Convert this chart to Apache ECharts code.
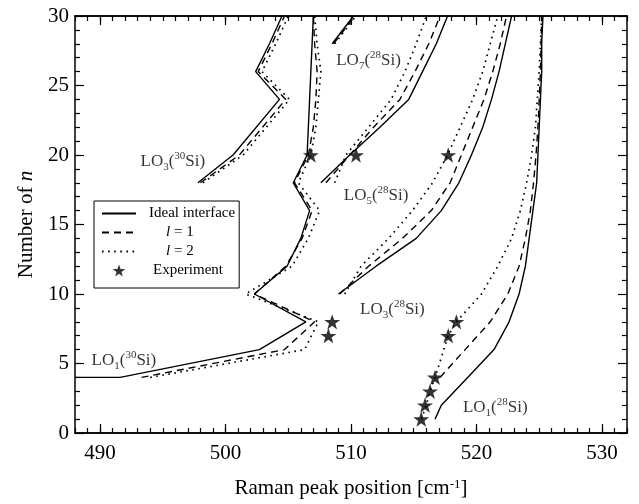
<!DOCTYPE html>
<html><head><meta charset="utf-8">
<script src="https://cdn.jsdelivr.net/npm/echarts@6/dist/echarts.min.js"></script>
<style>html,body{margin:0;padding:0;background:#fff}#c{width:639px;height:504px}</style>
</head><body><div id="c"></div>
<script>
// ---------- data (x = Raman peak position, y = n) ----------
const xMajorTicks = [490, 500, 510, 520, 530];
const yMajorTicks = [0, 5, 10, 15, 20, 25, 30];

// LO1(30Si) branch (zig-zag continuing to top)
const lo1_30_ideal = [[488,4],[491.6,4],[502.7,6],[506.4,8],[502.3,10],[504.9,12],[506.0,14],[506.7,16],[505.4,18],[506.5,20],[506.6,22],[506.7,24],[506.8,26],[506.9,28],[507.0,30]];
const lo1_30_l1    = [[493.3,4],[504.7,6],[507.1,8],[502.3,10],[504.8,12],[506.1,14],[506.9,16],[505.5,18],[506.6,20],[507.0,22],[507.2,24],[507.3,26],[507.1,28],[507.0,30]];
const lo1_30_l2    = [[494.0,4],[506.3,6],[507.4,8],[501.6,10],[505.3,12],[506.6,14],[507.5,16],[505.8,18],[506.8,20],[507.2,22],[507.4,24],[507.6,26],[507.3,28],[507.1,30]];
// LO3(30Si)
const lo3_30_ideal = [[497.8,18],[500.6,20],[504.3,24],[502.4,26],[503.5,28],[504.5,30]];
const lo3_30_l1    = [[498.0,18],[501.1,20],[504.8,24],[502.6,26],[503.7,28],[504.7,30]];
const lo3_30_l2    = [[498.2,18],[501.4,20],[505.1,24],[502.9,26],[504.0,28],[505.0,30]];
// LO7(28Si)
const lo7_28_ideal = [[508.5,28],[510.2,30]];
const lo7_28_l1    = [[508.6,28],[510.3,30]];
const lo7_28_l2    = [[508.7,28],[510.4,30]];
// LO5(28Si)
const lo5_28_ideal = [[507.6,18],[509.9,20],[512.3,22],[514.6,24],[515.7,26],[516.8,28],[517.7,30]];
const lo5_28_l1    = [[508.0,18],[509.9,20],[511.8,22],[513.9,24],[515.1,26],[516.2,28],[517.1,30]];
const lo5_28_l2    = [[508.7,18],[509.6,20],[511.4,22],[513.2,24],[514.3,26],[515.2,28],[516.0,30]];
// LO3(28Si)
const lo3_28_ideal = [[509.0,10],[512.0,12],[515.2,14],[517.2,16],[518.6,18],[519.6,20],[520.5,22],[521.2,24],[521.8,26],[522.3,28],[522.8,30]];
const lo3_28_l1    = [[509.1,10],[511.4,12],[514.1,14],[516.4,16],[517.9,18],[518.8,20],[519.7,22],[520.6,24],[521.3,26],[521.9,28],[522.4,30]];
const lo3_28_l2    = [[509.5,10],[510.8,12],[513.0,14],[514.9,16],[516.5,18],[517.7,20],[518.7,22],[519.7,24],[520.5,26],[521.1,28],[521.7,30]];
// LO1(28Si)
const lo1_28_ideal = [[516.7,1],[517.2,2],[519.3,4],[521.4,6],[522.6,8],[523.4,10],[523.9,12],[524.2,14],[524.5,16],[524.8,18],[524.9,20],[525.0,22],[525.1,24],[525.2,26],[525.2,28],[525.3,30]];
const lo1_28_l1    = [[517.1,4],[519.1,6],[521.1,8],[522.5,10],[523.4,12],[523.9,14],[524.3,16],[524.55,18],[524.75,20],[524.9,22],[525.0,24],[525.1,26],[525.15,28],[525.2,30]];
const lo1_28_l2    = [[515.6,1],[516.0,2],[516.3,3],[516.7,4],[517.75,7],[518.4,8],[520.4,10],[521.7,12],[522.8,14],[523.5,16],[524.0,18],[524.4,20],[524.7,22],[524.85,24],[525.0,26],[525.1,28],[525.2,30]];

// Experiment
const expX = [506.8, 510.4, 517.75, 508.5, 508.2, 518.4, 517.75, 516.7, 516.3, 515.9, 515.6];
const expN = [20, 20, 20, 8, 7, 8, 7, 4, 3, 2, 1];

// Curve labels (mode index, isotope, anchor in data units)
const lblMode = ['1', '3', '1', '3', '5', '7'];
const lblIso  = ['30', '30', '28', '28', '28', '28'];
const lblX    = [491.9, 495.8, 521.5, 513.3, 512.0, 511.4];
const lblY    = [5.2, 19.5, 1.8, 8.85, 17.05, 26.8];

// ---------- chart ----------
const FONT = '"Liberation Serif", "Times New Roman", serif';
const xMinorTicks = []; for (let v = 488; v <= 532; v++) xMinorTicks.push(v);

const styles = {
  'Ideal interface': { type: 'solid', width: 1.4 },
  'l = 1': { type: [7, 5], width: 1.4 },
  'l = 2': { type: [1.6, 4.5], width: 1.7 }
};
function line(name, data) {
  return { name, type: 'line', data, symbol: 'none', showSymbol: false, clip: true,
    lineStyle: Object.assign({ color: '#000' }, styles[name]), itemStyle: { color: '#000' },
    animation: false, xAxisIndex: 0, yAxisIndex: 0 };
}
const STAR = 'path://M50,0 L61.8,35.1 L98.1,35.1 L68.8,56.8 L79.4,91.9 L50,70.3 L20.6,91.9 L31.2,56.8 L1.9,35.1 L38.2,35.1 Z';

const series = [
  line('Ideal interface', lo1_30_ideal), line('l = 1', lo1_30_l1), line('l = 2', lo1_30_l2),
  line('Ideal interface', lo3_30_ideal), line('l = 1', lo3_30_l1), line('l = 2', lo3_30_l2),
  line('Ideal interface', lo7_28_ideal), line('l = 1', lo7_28_l1), line('l = 2', lo7_28_l2),
  line('Ideal interface', lo5_28_ideal), line('l = 1', lo5_28_l1), line('l = 2', lo5_28_l2),
  line('Ideal interface', lo3_28_ideal), line('l = 1', lo3_28_l1), line('l = 2', lo3_28_l2),
  line('Ideal interface', lo1_28_ideal), line('l = 1', lo1_28_l1), line('l = 2', lo1_28_l2),
  { name: 'Experiment', type: 'scatter', symbol: STAR, symbolSize: 16, symbolKeepAspect: true,
    itemStyle: { color: '#000' }, data: expX.map((x, i) => [x, expN[i]]), animation: false, z: 5 },
  { name: 'labels', type: 'scatter', symbolSize: 0, silent: true, animation: false,
    data: lblX.map((x, i) => ({ value: [x, lblY[i]], mode: lblMode[i], iso: lblIso[i] })),
    label: { show: true, position: 'inside', color: '#000',
      formatter: p => '{m|LO}{sub|' + p.data.mode + '}{m|(}{sup|' + p.data.iso + '}{m|Si)}',
      rich: {
        m: { fontFamily: FONT, fontSize: 17, color: '#000', lineHeight: 22 },
        sub: { fontFamily: FONT, fontSize: 11, color: '#000', verticalAlign: 'bottom', lineHeight: 22, padding: [10, 0, 0, 0] },
        sup: { fontFamily: FONT, fontSize: 11, color: '#000', verticalAlign: 'top', lineHeight: 22, padding: [0, 0, 8, 0] }
      } } }
];

const axisLine = { show: true, onZero: false, lineStyle: { color: '#000', width: 1.5 } };
const tickStyle = { color: '#000', width: 1.2 };
function xAx(pos, ticks, len, labels) {
  return { type: 'value', position: pos, min: 488, max: 532, axisLine,
    axisTick: { show: true, inside: true, length: len, customValues: ticks, lineStyle: tickStyle },
    axisLabel: labels ? { show: true, customValues: xMajorTicks, fontFamily: FONT, fontSize: 21, color: '#000', margin: 10 } : { show: false },
    splitLine: { show: false } };
}
const xAxes = [xAx('bottom', xMajorTicks, 9, true), xAx('bottom', xMinorTicks, 5, false), xAx('top', xMajorTicks, 9, false), xAx('top', xMinorTicks, 5, false)];
xAxes[0].name = 'Raman peak position [cm{s|-1}]';
xAxes[0].nameLocation = 'middle';
xAxes[0].nameGap = 45;
xAxes[0].nameTextStyle = { fontFamily: FONT, fontSize: 21, color: '#000',
  rich: { s: { fontFamily: FONT, fontSize: 13, color: '#000', verticalAlign: 'top', padding: [0, 0, 8, 0] } } };

function yAx(pos, labels) {
  return { type: 'value', position: pos, min: 0, max: 30, interval: 5, axisLine,
    axisTick: { show: true, inside: true, length: 9, lineStyle: tickStyle },
    minorTick: { show: true, splitNumber: 5, length: 5, lineStyle: tickStyle },
    axisLabel: labels ? { show: true, fontFamily: FONT, fontSize: 21, color: '#000', margin: 6 } : { show: false },
    splitLine: { show: false }, minorSplitLine: { show: false } };
}
const yAxes = [yAx('left', true), yAx('right', false)];
yAxes[0].name = 'Number of {i|n}';
yAxes[0].nameLocation = 'middle';
yAxes[0].nameGap = 28;
yAxes[0].nameTextStyle = { fontFamily: FONT, fontSize: 21, color: '#000',
  rich: { i: { fontFamily: FONT, fontSize: 21, fontStyle: 'italic', color: '#000' } } };

const legendText = {
  'Ideal interface': '{a|Ideal interface}',
  'l = 1': '{b|l} {c|= 1}',
  'l = 2': '{b|l} {c|= 2}',
  'Experiment': '{d|Experiment}'
};

const chart = echarts.init(document.getElementById('c'), null, { renderer: 'canvas' });
chart.setOption({
  animation: false,
  backgroundColor: '#fff',
  grid: { left: 75, right: 12, top: 16, bottom: 71, containLabel: false, outerBoundsMode: 'none' },
  xAxis: xAxes,
  yAxis: yAxes,
  legend: {
    orient: 'vertical', left: 94, top: 201,
    borderColor: '#000', borderWidth: 1, padding: [5, 4, 10, 7],
    itemWidth: 34, itemHeight: 12, itemGap: 4,
    data: [
      { name: 'Ideal interface', itemStyle: { opacity: 0 } },
      { name: 'l = 1', itemStyle: { opacity: 0 } },
      { name: 'l = 2', itemStyle: { opacity: 0 } },
      { name: 'Experiment' }
    ],
    formatter: n => legendText[n],
    textStyle: { fontFamily: FONT, fontSize: 15, color: '#000',
      rich: {
        a: { fontFamily: FONT, fontSize: 15, color: '#000', padding: [0, 0, 0, 8] },
        b: { fontFamily: FONT, fontSize: 15, color: '#000', fontStyle: 'italic', padding: [0, 0, 0, 25] },
        c: { fontFamily: FONT, fontSize: 15, color: '#000' },
        d: { fontFamily: FONT, fontSize: 15, color: '#000', padding: [0, 0, 0, 12] }
      } },
    selectedMode: false
  },
  series
});
</script></body></html>
